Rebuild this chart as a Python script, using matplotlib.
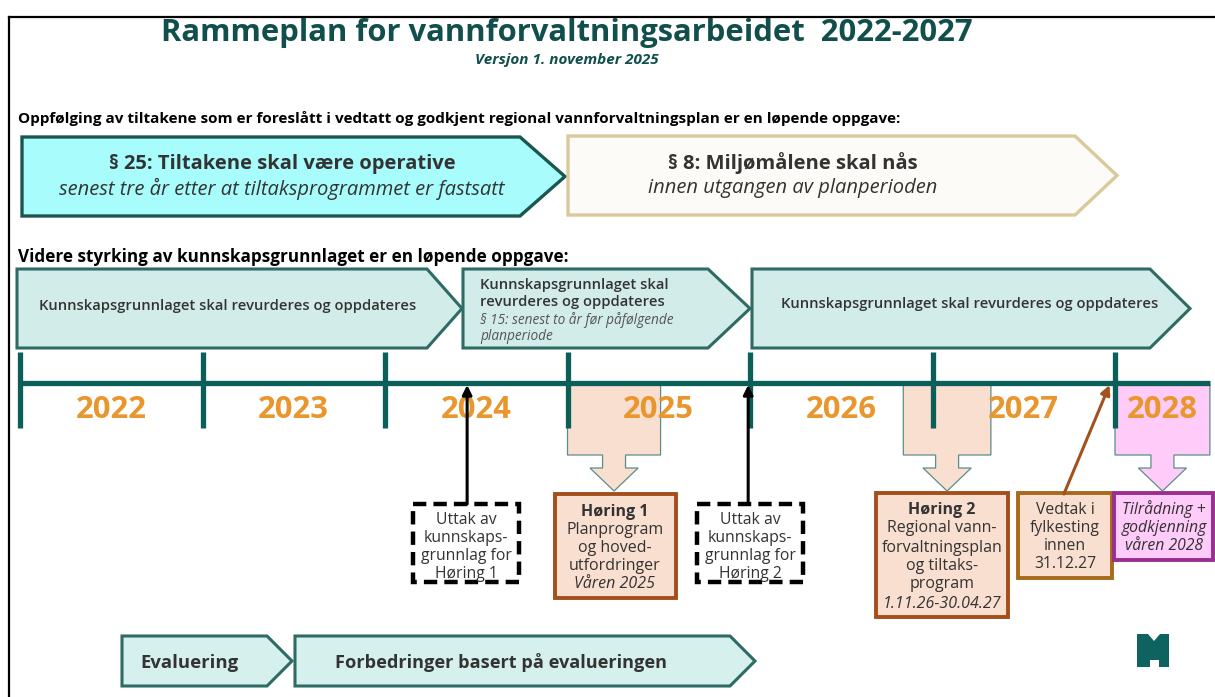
import matplotlib.pyplot as plt
from matplotlib.patches import Polygon, Rectangle

plt.rcParams['font.family'] = ['Open Sans', 'DejaVu Sans']

# ---- data ----
title = "Rammeplan for vannforvaltningsarbeidet  2022-2027"
subtitle = "Versjon 1. november 2025"
heading_follow_up = ("Oppfølging av tiltakene som er foreslått i vedtatt og godkjent "
                     "regional vannforvaltningsplan er en løpende oppgave:")
heading_knowledge = "Videre styrking av kunnskapsgrunnlaget er en løpende oppgave:"

goal_titles = ["§ 25: Tiltakene skal være operative", "§ 8: Miljømålene skal nås"]
goal_notes = ["senest tre år etter at tiltaksprogrammet er fastsatt",
              "innen utgangen av planperioden"]

knowledge_text = "Kunnskapsgrunnlaget skal revurderes og oppdateres"
knowledge_mid = ["Kunnskapsgrunnlaget skal", "revurderes og oppdateres"]
knowledge_mid_note = ["§ 15: senest to år før påfølgende", "planperiode"]

years = [2022, 2023, 2024, 2025, 2026, 2027, 2028]
year_labels = ["2022", "2023", "2024", "2025", "2026", "2027", "2028"]

# periods marked below the timeline (hearings and approval)
period_start = [2025.0, 2026.84, 2028.0]
period_end = [2025.51, 2027.32, 2028.52]

# milestones on the timeline
uttak_years = [2024.45, 2025.99]
vedtak_year = 2027.97
vedtak_from = 2027.72

uttak_lines = [["Uttak av", "kunnskaps-", "grunnlag for", "Høring 1"],
               ["Uttak av", "kunnskaps-", "grunnlag for", "Høring 2"]]
horing1_lines = ["Høring 1", "Planprogram", "og hoved-", "utfordringer", "Våren 2025"]
horing2_lines = ["Høring 2", "Regional vann-", "forvaltningsplan", "og tiltaks-",
                 "program", "1.11.26-30.04.27"]
vedtak_lines = ["Vedtak i", "fylkesting", "innen", "31.12.27"]
tilradning_lines = ["Tilrådning +", "godkjenning", "våren 2028"]

eval_labels = ["Evaluering", "Forbedringer basert på evalueringen"]

# ---- colours ----
TEAL = "#0b5f59"
DARK = "#104f4b"
EDGE = "#2f6b65"
ORANGE = "#e8962d"
PEACH = "#f9dfcf"
PINK = "#ffcbf8"
BROWN = "#a44f1b"
TXT = "#333333"

fig = plt.figure(figsize=(12.15, 6.97), dpi=100)
ax = fig.add_axes([0, 0, 1, 1])
ax.set_xlim(0, 1215)
ax.set_ylim(697, 0)
ax.axis("off")


def chevron(x0, x1, y0, y1, tip, fc, ec, lw=2.2):
    pts = [(x0, y0), (x1 - tip, y0), (x1, (y0 + y1) / 2), (x1 - tip, y1), (x0, y1)]
    ax.add_patch(Polygon(pts, closed=True, fc=fc, ec=ec, lw=lw, joinstyle="miter"))


def box_text(cx, ys, lines, size, bold_first=False, italic_last=False, italic_all=False):
    for i, (y, line) in enumerate(zip(ys, lines)):
        weight = "bold" if (bold_first and i == 0) else "normal"
        style = "italic" if (italic_all or (italic_last and i == len(lines) - 1)) else "normal"
        ax.text(cx, y + 1.5, line, ha="center", va="center", fontsize=size,
                color=TXT, fontweight=weight, fontstyle=style)


# frame
ax.plot([9, 9], [17, 697], color="black", lw=1.6)
ax.plot([9, 1215], [17, 17], color="black", lw=1.6)

ax.text(567, 33, title, ha="center", va="center", fontsize=22.3,
        fontweight="bold", color=DARK)
ax.text(567, 60, subtitle, ha="center", va="center", fontsize=11,
        fontweight="bold", fontstyle="italic", color=DARK)

ax.text(18, 119, heading_follow_up, ha="left", va="center", fontsize=11,
        fontweight="bold", color="black")

# goals
chevron(22, 565, 137, 216, 45, "#a8fcfc", "#1c5650", lw=2.4)
chevron(568, 1117, 136, 215, 42, "#fdfbf7", "#d9c99b", lw=2.4)
ax.text(282, 164, goal_titles[0], ha="center", va="center", fontsize=14.5,
        fontweight="bold", color=TXT)
ax.text(282, 189, goal_notes[0], ha="center", va="center", fontsize=14.5,
        fontstyle="italic", color=TXT)
ax.text(793, 163, goal_titles[1], ha="center", va="center", fontsize=14.5,
        fontweight="bold", color=TXT)
ax.text(793, 188, goal_notes[1], ha="center", va="center", fontsize=14.5,
        fontstyle="italic", color=TXT)

ax.text(18, 257, heading_knowledge, ha="left", va="center", fontsize=12.3,
        fontweight="bold", color="black")

# knowledge phases
chevron(17, 462, 269, 348, 35, "#d2ecea", EDGE)
chevron(463, 750, 269, 348, 42, "#d2ecea", EDGE)
chevron(752, 1190, 269, 348, 40, "#d2ecea", EDGE)
ax.text(228, 306, knowledge_text, ha="center", va="center", fontsize=10.6,
        fontweight="semibold", color=TXT)
ax.text(970, 304, knowledge_text, ha="center", va="center", fontsize=10.6,
        fontweight="semibold", color=TXT)
for y, line in zip([285, 302], knowledge_mid):
    ax.text(480, y, line, ha="left", va="center", fontsize=10.6,
            fontweight="semibold", color=TXT)
for y, line in zip([320, 337], knowledge_mid_note):
    ax.text(480, y, line, ha="left", va="center", fontsize=9.8,
            fontstyle="italic", color="#555555")

# milestone boxes
for x0, lines in zip([413, 697], uttak_lines):
    ax.add_patch(Rectangle((x0, 504), 106, 78, fc="white", ec="black", lw=3.2,
                           linestyle=(0, (3, 1.6))))
    box_text(x0 + 53, [518, 537, 555, 573], lines, 11.3)

ax.add_patch(Rectangle((555, 494), 121, 104, fc=PEACH, ec=BROWN, lw=2.8))
box_text(615, [510, 528, 547, 565, 583], horing1_lines, 11.5,
         bold_first=True, italic_last=True)

ax.add_patch(Rectangle((876, 493), 132, 124, fc=PEACH, ec=BROWN, lw=2.8))
box_text(942, [508, 527, 546, 565, 583, 602], horing2_lines, 11.5,
         bold_first=True, italic_last=True)

ax.add_patch(Rectangle((1018, 493), 94, 85, fc=PEACH, ec="#a86a1c", lw=2.8))
box_text(1065, [508, 526, 545, 563], vedtak_lines, 11.3)

ax.add_patch(Rectangle((1114, 493), 99, 67, fc=PINK, ec="#9a2f91", lw=2.8))
box_text(1164, [508, 526, 545], tilradning_lines, 11.3, italic_all=True)

# evaluation
chevron(122, 292, 636, 686, 25, "#d6f1ed", EDGE)
chevron(295, 755, 636, 686, 25, "#d6f1ed", EDGE)
ax.text(140, 663, eval_labels[0], ha="left", va="center", fontsize=13.3,
        fontweight="bold", color=TXT)
ax.text(335, 663, eval_labels[1], ha="left", va="center", fontsize=13.1,
        fontweight="bold", color=TXT)

# logo
logo = [(1137, 634), (1148, 634), (1154, 641), (1160, 634), (1169, 634),
        (1169, 667), (1159, 667), (1159, 660), (1150, 660), (1150, 667),
        (1137, 667)]
ax.add_patch(Polygon(logo, closed=True, fc="#0e6360", ec="none"))

# ---- timeline axes: x in years ----
tl = fig.add_axes([0, 0, 1, 1])
tl.patch.set_visible(False)
tl.set_xlim(2022 - 20 / 182.5, 2022 + 1195 / 182.5)
tl.set_ylim(697, 0)
tl.axis("off")

for s, e, fc in zip(period_start, period_end, ["#f9dfcf", "#f9dfcf", PINK]):
    c = (s + e) / 2
    neck = 0.063
    head = 0.132
    pts = [(s, 385), (e, 385), (e, 455), (c + neck, 455), (c + neck, 468),
           (c + head, 468), (c, 491), (c - head, 468), (c - neck, 468),
           (c - neck, 455), (s, 455)]
    tl.add_patch(Polygon(pts, closed=True, fc=fc, ec="#5b8e89", lw=0.9, zorder=1))

tl.plot([years[0], 2028.52], [383, 383], color=TEAL, lw=3.8,
        solid_capstyle="butt", zorder=3)
tl.vlines(years, 352, 428, color=TEAL, lw=3.8, zorder=3)

for yr, lab in zip(years, year_labels):
    xc = min(yr + 0.5, 2028.26)
    tl.text(xc, 410, lab, ha="center", va="center", fontsize=22.3,
            fontweight="bold", color=ORANGE, zorder=4)

for yr in uttak_years:
    tl.annotate("", xy=(yr, 385), xytext=(yr, 504),
                arrowprops=dict(arrowstyle="-|>", color="black", lw=2.2,
                                mutation_scale=14, shrinkA=0, shrinkB=0),
                zorder=5)
tl.annotate("", xy=(vedtak_year, 385), xytext=(vedtak_from, 494),
            arrowprops=dict(arrowstyle="-|>", color="#a0521f", lw=2.2,
                            mutation_scale=14, shrinkA=0, shrinkB=0),
            zorder=5)

fig.savefig("out.png", dpi=100)
